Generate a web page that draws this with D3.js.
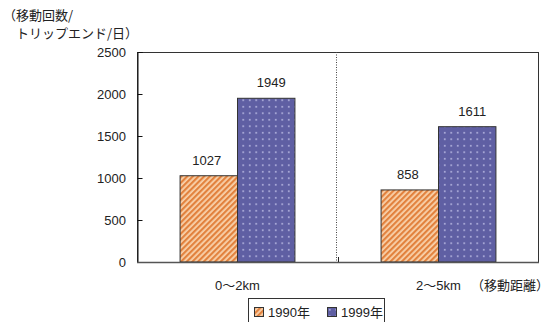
<!DOCTYPE html>
<html>
<head>
<meta charset="utf-8">
<script src="https://cdn.jsdelivr.net/npm/d3@7"></script>
<style>
	body { margin: 0; background: #fff; }
	svg text { font-family: "Liberation Sans", Arial, "Noto Sans CJK JP", sans-serif; font-size: 13px; fill: #222; }
	.jp { font-family: "Noto Sans CJK JP", sans-serif; }
</style>
</head>
<body>
<div id="chart"></div>
<script>
var categories = ["0\u301c2km", "2\u301c5km"];
var series = ["1990年", "1999年"];
var values_1990 = [1027, 858];
var values_1999 = [1949, 1611];
var y_ticks = [0, 500, 1000, 1500, 2000, 2500];

window.onload = function() {
	main();
};

function main() {
	var svg = d3.select("#chart")
		.append("svg")
		.attr("width", 549)
		.attr("height", 322);

	setup_patterns(svg);

	var left = 137, right = 539, top = 52, bottom = 262;

	var x0 = d3.scaleBand()
		.domain(categories)
		.range([left, right]);

	var x1 = d3.scaleBand()
		.domain(series)
		.range([0, x0.bandwidth()])
		.paddingOuter(0.75);

	var y = d3.scaleLinear()
		.domain([0, 2500])
		.range([bottom, top]);

	// frame
	svg.append("rect")
		.attr("x", left + 0.5)
		.attr("y", top + 0.5)
		.attr("width", right - left - 1)
		.attr("height", bottom - top)
		.attr("fill", "none")
		.attr("stroke", "#333")
		.attr("stroke-width", 1);

	// separator between categories
	var mid = x0(categories[1]) - 1.5;
	svg.append("line")
		.attr("x1", mid).attr("x2", mid)
		.attr("y1", top).attr("y2", bottom + 2)
		.attr("stroke", "#444")
		.attr("stroke-width", 1)
		.attr("stroke-dasharray", "1,1.5");

	var fills = { "1990年": "url(#hatch)", "1999年": "url(#dots)" };
	var rows = [];
	categories.forEach(function(c, i) {
		rows.push({ cat: c, s: series[0], v: values_1990[i] });
		rows.push({ cat: c, s: series[1], v: values_1999[i] });
	});

	svg.selectAll(".bar")
		.data(rows)
		.enter()
		.append("rect")
		.attr("class", "bar")
		.attr("x", function(d) { return x0(d.cat) + x1(d.s); })
		.attr("y", function(d) { return y(d.v); })
		.attr("width", x1.bandwidth())
		.attr("height", function(d) { return y(0) - y(d.v); })
		.attr("fill", function(d) { return fills[d.s]; })
		.attr("stroke", "#333")
		.attr("stroke-width", 1);

	var dx = { "1990年": -2, "1999年": 5 };
	svg.selectAll(".lbl")
		.data(rows)
		.enter()
		.append("text")
		.attr("class", "lbl")
		.attr("x", function(d) { return x0(d.cat) + x1(d.s) + x1.bandwidth() / 2 + dx[d.s]; })
		.attr("y", function(d) { return y(d.v) - 11; })
		.attr("text-anchor", "middle")
		.text(function(d) { return d.v; });

	// y axis
	var yAxis = svg.append("g")
		.attr("transform", "translate(" + (left + 0.5) + ",0)")
		.call(d3.axisRight(y).tickValues(y_ticks).tickSize(5).tickFormat(""));
	yAxis.select(".domain").attr("stroke", "#111");
	yAxis.selectAll(".tick line").attr("stroke", "#111");

	svg.selectAll(".ylbl")
		.data(y_ticks)
		.enter()
		.append("text")
		.attr("class", "ylbl")
		.attr("x", 126)
		.attr("y", function(d) { return y(d) + 4.5; })
		.attr("text-anchor", "end")
		.text(function(d) { return d; });

	// x baseline
	svg.append("line")
		.attr("x1", left).attr("x2", right)
		.attr("y1", bottom + 0.5).attr("y2", bottom + 0.5)
		.attr("stroke", "#555")
		.attr("stroke-width", 1.5);
	svg.append("line")
		.attr("x1", x0(categories[1]) + 0.5).attr("x2", x0(categories[1]) + 0.5)
		.attr("y1", bottom - 5).attr("y2", bottom)
		.attr("stroke", "#222");

	svg.selectAll(".xlbl")
		.data(categories)
		.enter()
		.append("text")
		.attr("class", "xlbl")
		.attr("x", function(d) { return x0(d) + x0.bandwidth() / 2; })
		.attr("y", 290)
		.attr("text-anchor", "middle")
		.text(function(d) { return d; });

	svg.append("text")
		.attr("class", "jp")
		.attr("x", 549)
		.attr("y", 290)
		.attr("text-anchor", "end")
		.text("（移動距離）");

	// y title
	svg.append("text")
		.attr("class", "jp")
		.attr("x", 3)
		.attr("y", 20)
		.text("（移動回数/");
	svg.append("text")
		.attr("class", "jp")
		.attr("x", 16)
		.attr("y", 38)
		.text("トリップエンド/日）");

	// legend
	svg.append("rect")
		.attr("x", 248.5)
		.attr("y", 298.5)
		.attr("width", 136)
		.attr("height", 30)
		.attr("fill", "#fff")
		.attr("stroke", "#333");

	var lx = [254, 327];
	var lg = svg.selectAll(".leg")
		.data(series)
		.enter()
		.append("g")
		.attr("class", "leg")
		.attr("transform", function(d, i) { return "translate(" + lx[i] + ",307)"; });
	lg.append("rect")
		.attr("x", 0.5).attr("y", 0.5)
		.attr("width", 9).attr("height", 9)
		.attr("fill", function(d) { return fills[d]; })
		.attr("stroke", "#333");
	lg.append("text")
		.attr("x", 14)
		.attr("y", 9.5)
		.text(function(d) { return d; });
}

function setup_patterns(svg) {
	var defs = svg.append("defs");

	var h = defs.append("pattern")
		.attr("id", "hatch")
		.attr("patternUnits", "userSpaceOnUse")
		.attr("width", 4)
		.attr("height", 4)
		.attr("patternTransform", "rotate(45)");
	h.append("rect")
		.attr("width", 4).attr("height", 4)
		.attr("fill", "#f9d3ad");
	h.append("rect")
		.attr("width", 2.2).attr("height", 4)
		.attr("fill", "#e2823e");

	var p = defs.append("pattern")
		.attr("id", "dots")
		.attr("patternUnits", "userSpaceOnUse")
		.attr("width", 6.5)
		.attr("height", 6.5);
	p.append("rect")
		.attr("width", 6.5).attr("height", 6.5)
		.attr("fill", "#5f5fa3");
	p.append("rect")
		.attr("x", 2).attr("y", 2)
		.attr("width", 1.5).attr("height", 1.5)
		.attr("fill", "#c6c6ec");
}
</script>
</body>
</html>
